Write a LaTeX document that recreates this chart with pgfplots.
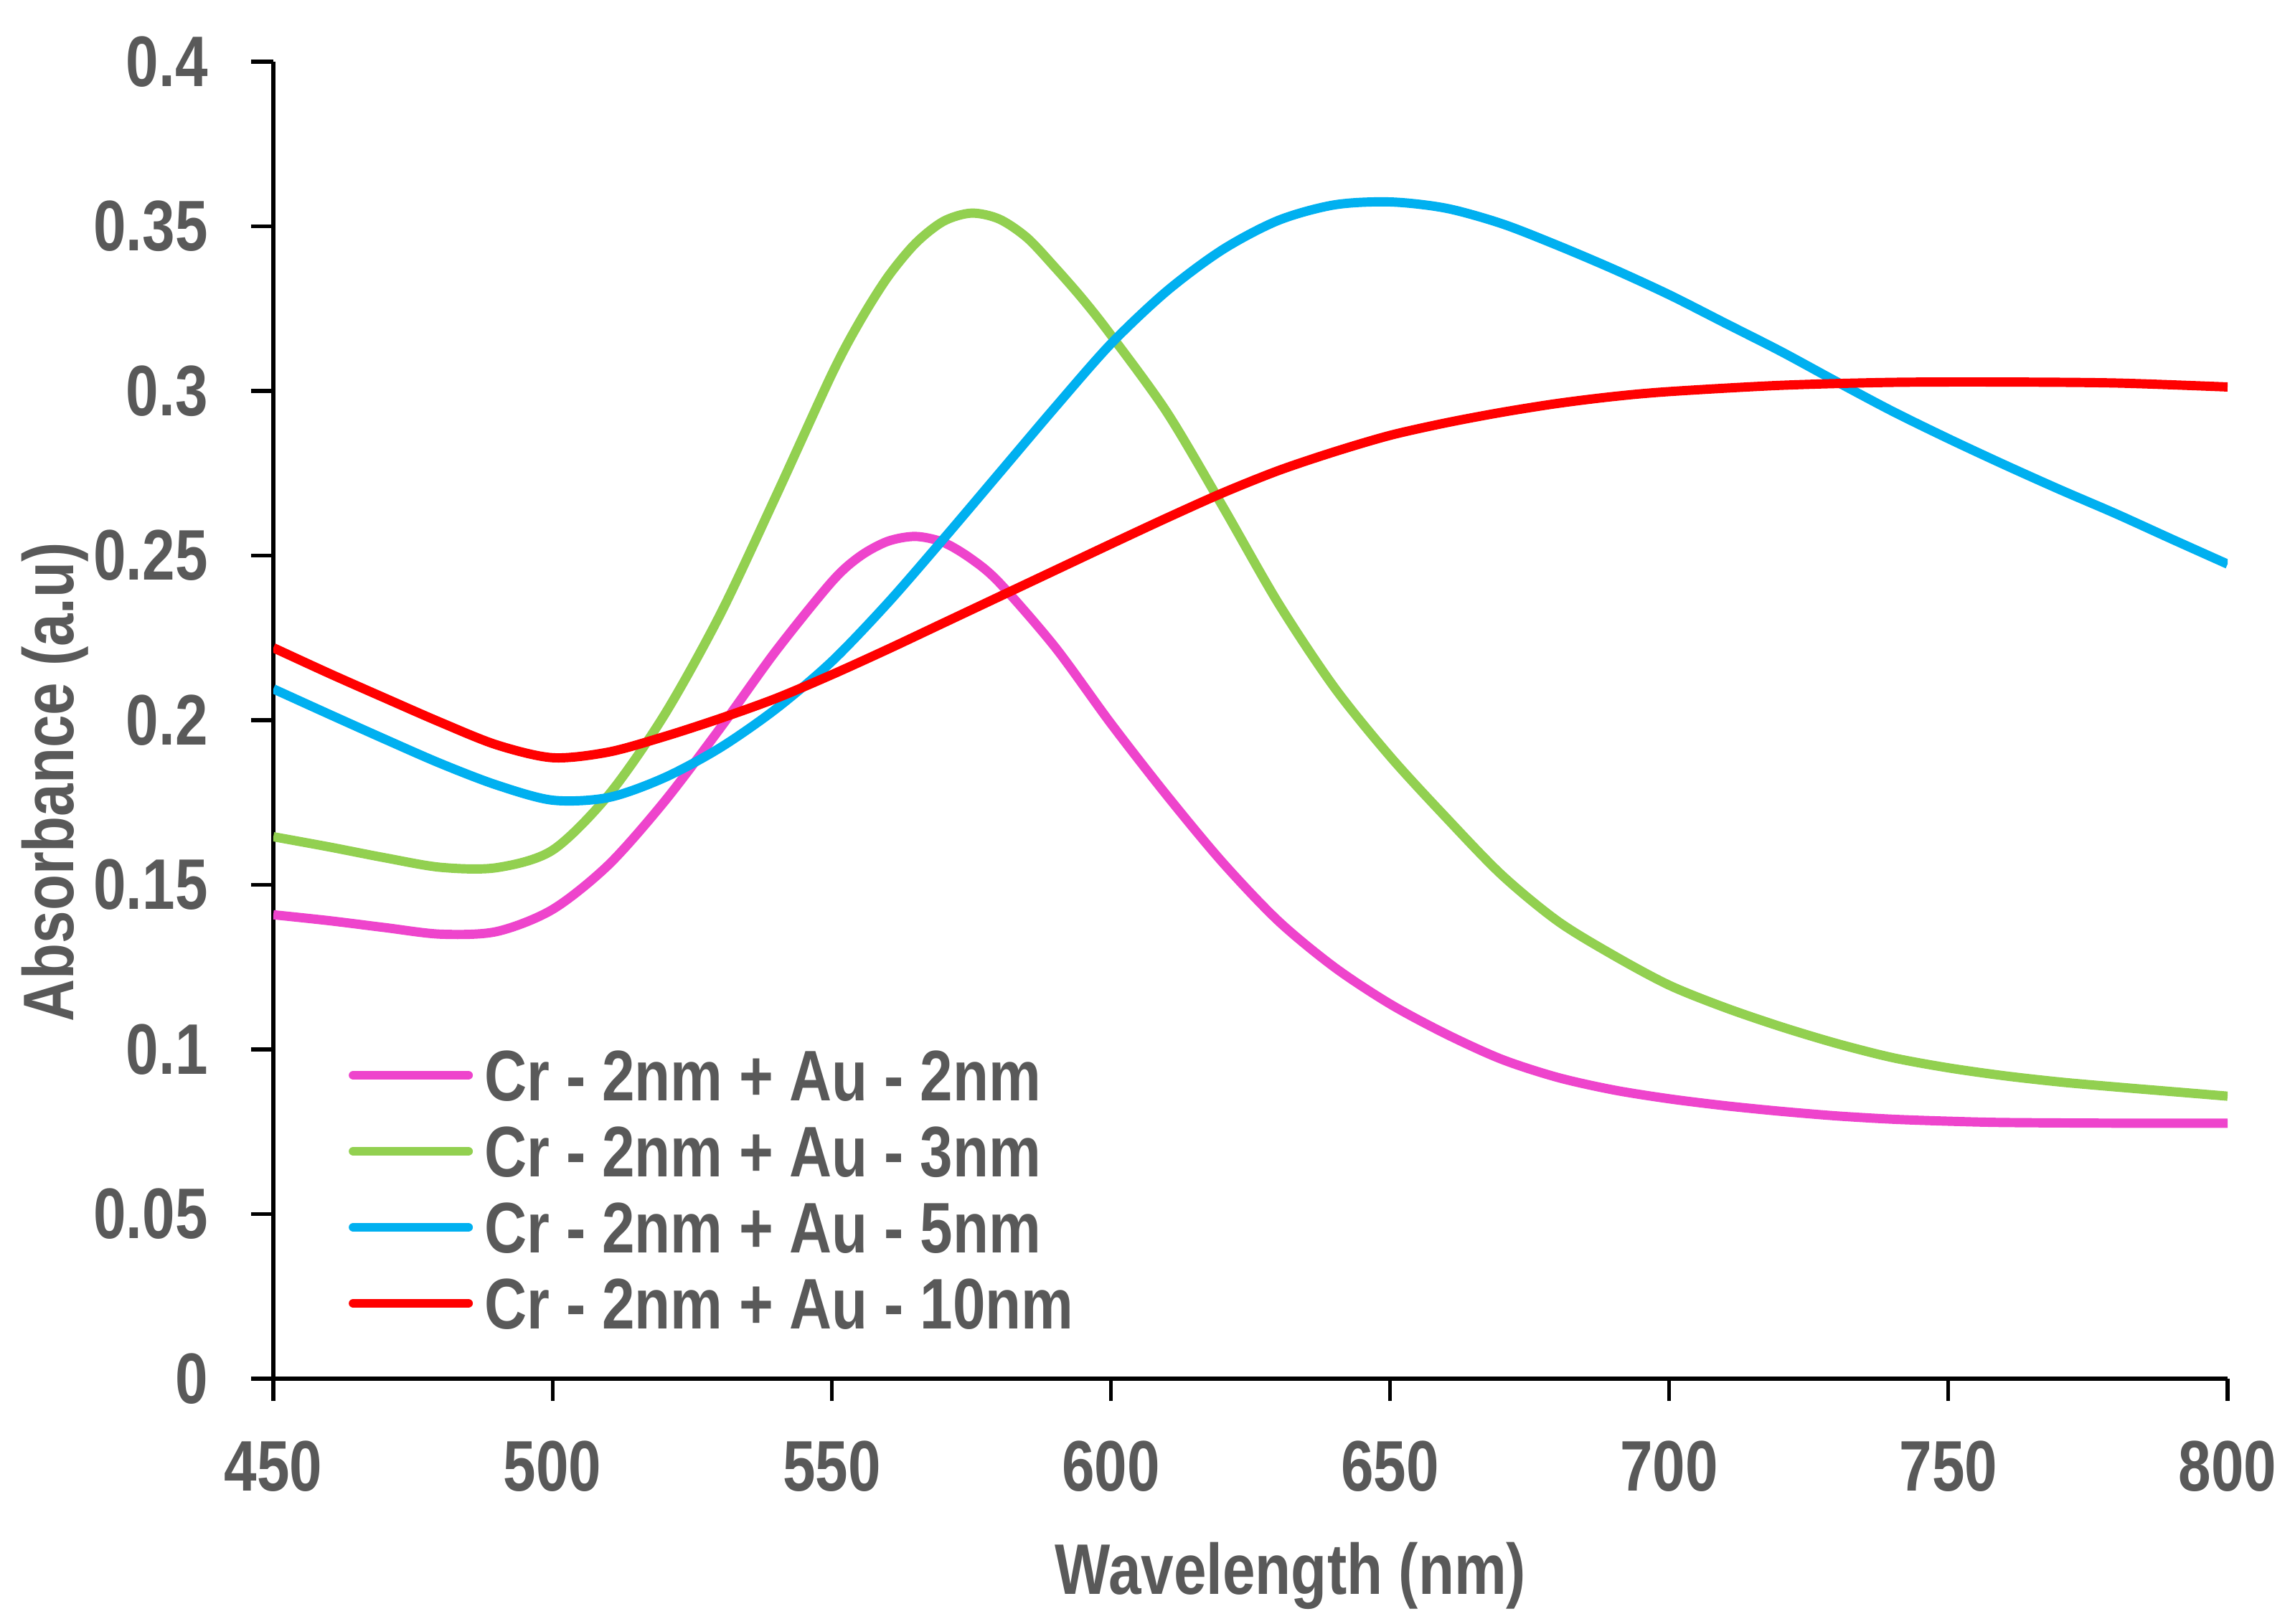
\documentclass[border=0pt]{standalone}
\usepackage{fontspec}
\setmainfont{Liberation Sans}[FakeStretch=0.82]
\usepackage{pgfplots}
\pgfplotsset{compat=1.18}
\definecolor{txt}{HTML}{595959}
\definecolor{cmag}{HTML}{EE44CC}
\definecolor{cgrn}{HTML}{92D050}
\definecolor{cblu}{HTML}{00B0F0}
\definecolor{cred}{HTML}{FF0000}
\newcommand\lfont{\fontsize{14.2}{17}\selectfont\bfseries}
\begin{document}
\begin{tikzpicture}
\begin{axis}[
  width=13.62cm, height=9.18cm, scale only axis,
  at={(0,0)}, anchor=south west,
  xmin=450, xmax=800, ymin=0, ymax=0.4,
  axis lines=left, axis line style={-, line width=0.75pt, black},
  tick style={line width=0.75pt, black},
  tick align=outside, major tick length=0.155cm,
  xtick={450,500,...,800}, ytick={0,0.05,...,0.4},
  scaled y ticks=false, scaled x ticks=false,
  /pgf/number format/assume math mode=true,
  yticklabel style={/pgf/number format/fixed, /pgf/number format/precision=2},
  ticklabel style={font=\lfont, text=txt, inner sep=0pt},
  xticklabel style={anchor=north, yshift=-0.27cm},
  yticklabel style={anchor=east, xshift=-0.295cm},
  xlabel={Wavelength (nm)}, ylabel={Absorbance (a.u)},
  label style={font=\lfont, text=txt, inner sep=0pt},
  xlabel style={at={(axis description cs:0.5206,-0.1639)}, anchor=base},
  ylabel style={at={(axis description cs:-0.1024,0.453)}, anchor=base},
  legend style={draw=none, fill=none, at={(axis description cs:0.0386,0.25)}, anchor=north west,
    inner sep=0pt, outer sep=0pt, row sep=0.17cm, column sep=0.0825cm,
    font=\lfont, text=txt, nodes={inner sep=0pt, text height=0.36cm, text depth=0pt}},
  legend cell align=left,
  legend image code/.code={\draw[#1, line width=1.84pt, line cap=round] (0cm,0cm) -- (0.80cm,0cm);},
  every axis plot/.append style={line width=1.84pt, smooth},
]
\addplot[cmag] coordinates {
(450,0.1409)(460,0.1391)(470,0.1370)(480,0.1350)(490,0.1358)(500,0.1425)(510,0.1560)
(520,0.1752)(530,0.1975)(540,0.2210)(550,0.2420)(555,0.2497)(560,0.2543)(565,0.2558)
(570,0.2540)(575,0.2490)(580,0.2418)(590,0.2222)(600,0.1990)(610,0.1772)(620,0.1568)
(630,0.1390)(640,0.1250)(650,0.1138)(660,0.1047)(670,0.0970)(680,0.0915)(690,0.0877)
(700,0.0850)(710,0.0829)(720,0.0812)(730,0.0798)(740,0.0788)(750,0.0782)(760,0.0778)
(780,0.0776)(800,0.0776)};
\addlegendentry{Cr - 2nm + Au - 2nm}
\addplot[cgrn] coordinates {
(450,0.1646)(460,0.1615)(470,0.1582)(480,0.1553)(490,0.1552)(500,0.1605)(510,0.1772)
(520,0.2015)(530,0.2320)(540,0.2680)(550,0.3050)(555,0.3210)(560,0.3345)(565,0.3448)
(570,0.3515)(575,0.3540)(580,0.3522)(585,0.3465)(590,0.3375)(595,0.3278)(600,0.3170)
(610,0.2936)(620,0.2650)(630,0.2355)(640,0.2100)(650,0.1890)(660,0.1705)(670,0.1530)
(680,0.1390)(690,0.1286)(700,0.1195)(710,0.1127)(720,0.1069)(730,0.1018)(740,0.0975)
(750,0.0944)(760,0.0920)(770,0.0901)(780,0.0886)(790,0.0872)(800,0.0858)};
\addlegendentry{Cr - 2nm + Au - 3nm}
\addplot[cblu] coordinates {
(450,0.2095)(460,0.2018)(470,0.1942)(480,0.1868)(490,0.1803)(500,0.1757)(510,0.1765)
(520,0.1825)(530,0.1916)(540,0.2034)(550,0.2178)(560,0.2355)(570,0.2550)(580,0.2750)
(590,0.2950)(600,0.3143)(610,0.3303)(620,0.3429)(630,0.3518)(640,0.3565)(650,0.3574)
(660,0.3555)(670,0.3508)(680,0.3442)(690,0.3370)(700,0.3292)(710,0.3206)(720,0.3120)
(730,0.3028)(740,0.2938)(750,0.2855)(760,0.2776)(770,0.2700)(780,0.2627)(790,0.2550)
(800,0.2474)};
\addlegendentry{Cr - 2nm + Au - 5nm}
\addplot[cred] coordinates {
(450,0.2220)(460,0.2142)(470,0.2067)(480,0.1993)(490,0.1925)(500,0.1886)(510,0.1903)
(520,0.1950)(530,0.2005)(540,0.2066)(550,0.2138)(560,0.2215)(570,0.2295)(580,0.2375)
(590,0.2455)(600,0.2535)(610,0.2614)(620,0.2690)(630,0.2758)(640,0.2815)(650,0.2865)
(660,0.2903)(670,0.2935)(680,0.2962)(690,0.2983)(700,0.2998)(720,0.3017)(740,0.3026)
(760,0.3027)(780,0.3024)(800,0.3012)};
\addlegendentry{Cr - 2nm + Au - 10nm}
\end{axis}
\pgfresetboundingbox
\useasboundingbox (-1.905cm,-1.71cm) rectangle (14.055cm,9.61cm);
\end{tikzpicture}
\end{document}
